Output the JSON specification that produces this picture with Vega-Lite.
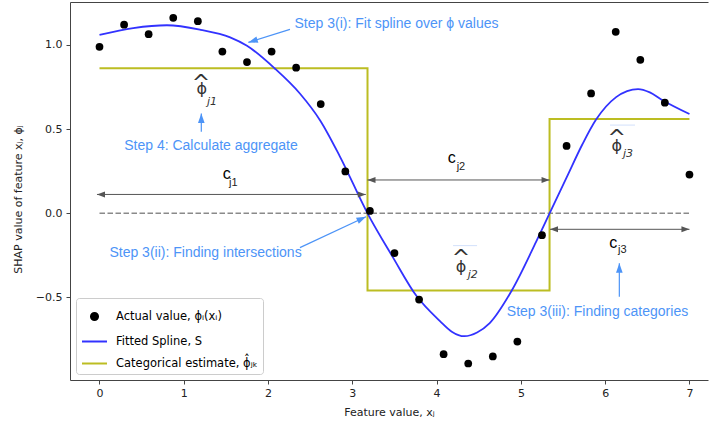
{
  "$schema": "https://vega.github.io/schema/vega-lite/v6.json",
  "width": 638,
  "height": 378,
  "autosize": {"type": "none"},
  "padding": {"left": 70, "top": 2, "right": 1, "bottom": 45},
  "config": {"view": {"stroke": null}, "font": "DejaVu Sans"},
  "datasets": {
    "pts": [
      {"x": 0, "y": 0.989, "series": "Actual value, ϕᵢ(xᵢ)"},
      {"x": 0.292, "y": 1.12, "series": "Actual value, ϕᵢ(xᵢ)"},
      {"x": 0.583, "y": 1.064, "series": "Actual value, ϕᵢ(xᵢ)"},
      {"x": 0.875, "y": 1.161, "series": "Actual value, ϕᵢ(xᵢ)"},
      {"x": 1.167, "y": 1.141, "series": "Actual value, ϕᵢ(xᵢ)"},
      {"x": 1.458, "y": 0.961, "series": "Actual value, ϕᵢ(xᵢ)"},
      {"x": 1.75, "y": 0.898, "series": "Actual value, ϕᵢ(xᵢ)"},
      {"x": 2.042, "y": 0.961, "series": "Actual value, ϕᵢ(xᵢ)"},
      {"x": 2.333, "y": 0.865, "series": "Actual value, ϕᵢ(xᵢ)"},
      {"x": 2.625, "y": 0.649, "series": "Actual value, ϕᵢ(xᵢ)"},
      {"x": 2.917, "y": 0.249, "series": "Actual value, ϕᵢ(xᵢ)"},
      {"x": 3.208, "y": 0.014, "series": "Actual value, ϕᵢ(xᵢ)"},
      {"x": 3.5, "y": -0.236, "series": "Actual value, ϕᵢ(xᵢ)"},
      {"x": 3.792, "y": -0.512, "series": "Actual value, ϕᵢ(xᵢ)"},
      {"x": 4.083, "y": -0.837, "series": "Actual value, ϕᵢ(xᵢ)"},
      {"x": 4.375, "y": -0.892, "series": "Actual value, ϕᵢ(xᵢ)"},
      {"x": 4.667, "y": -0.85, "series": "Actual value, ϕᵢ(xᵢ)"},
      {"x": 4.958, "y": -0.762, "series": "Actual value, ϕᵢ(xᵢ)"},
      {"x": 5.25, "y": -0.13, "series": "Actual value, ϕᵢ(xᵢ)"},
      {"x": 5.542, "y": 0.4, "series": "Actual value, ϕᵢ(xᵢ)"},
      {"x": 5.833, "y": 0.712, "series": "Actual value, ϕᵢ(xᵢ)"},
      {"x": 6.125, "y": 1.078, "series": "Actual value, ϕᵢ(xᵢ)"},
      {"x": 6.417, "y": 0.912, "series": "Actual value, ϕᵢ(xᵢ)"},
      {"x": 6.708, "y": 0.657, "series": "Actual value, ϕᵢ(xᵢ)"},
      {"x": 7.0, "y": 0.23, "series": "Actual value, ϕᵢ(xᵢ)"}
    ],
    "spline": [
      {"x": 0, "y": 1.06, "series": "Fitted Spline, S"},
      {"x": 0.4, "y": 1.1, "series": "Fitted Spline, S"},
      {"x": 0.8, "y": 1.117, "series": "Fitted Spline, S"},
      {"x": 1.2, "y": 1.09, "series": "Fitted Spline, S"},
      {"x": 1.55, "y": 1.045, "series": "Fitted Spline, S"},
      {"x": 1.75, "y": 0.995, "series": "Fitted Spline, S"},
      {"x": 2.08, "y": 0.86, "series": "Fitted Spline, S"},
      {"x": 2.38, "y": 0.71, "series": "Fitted Spline, S"},
      {"x": 2.62, "y": 0.55, "series": "Fitted Spline, S"},
      {"x": 2.85, "y": 0.34, "series": "Fitted Spline, S"},
      {"x": 3.18, "y": 0.0, "series": "Fitted Spline, S"},
      {"x": 3.48, "y": -0.26, "series": "Fitted Spline, S"},
      {"x": 3.76, "y": -0.49, "series": "Fitted Spline, S"},
      {"x": 4.04, "y": -0.64, "series": "Fitted Spline, S"},
      {"x": 4.18, "y": -0.703, "series": "Fitted Spline, S"},
      {"x": 4.33, "y": -0.73, "series": "Fitted Spline, S"},
      {"x": 4.48, "y": -0.708, "series": "Fitted Spline, S"},
      {"x": 4.63, "y": -0.652, "series": "Fitted Spline, S"},
      {"x": 4.89, "y": -0.46, "series": "Fitted Spline, S"},
      {"x": 5.18, "y": -0.17, "series": "Fitted Spline, S"},
      {"x": 5.34, "y": 0.0, "series": "Fitted Spline, S"},
      {"x": 5.54, "y": 0.21, "series": "Fitted Spline, S"},
      {"x": 5.73, "y": 0.41, "series": "Fitted Spline, S"},
      {"x": 5.89, "y": 0.555, "series": "Fitted Spline, S"},
      {"x": 6.13, "y": 0.69, "series": "Fitted Spline, S"},
      {"x": 6.26, "y": 0.726, "series": "Fitted Spline, S"},
      {"x": 6.39, "y": 0.738, "series": "Fitted Spline, S"},
      {"x": 6.53, "y": 0.718, "series": "Fitted Spline, S"},
      {"x": 6.67, "y": 0.675, "series": "Fitted Spline, S"},
      {"x": 7.0, "y": 0.59, "series": "Fitted Spline, S"}
    ],
    "step": [
      {"x": 0, "y": 0.861, "o": 1, "series": "Categorical estimate, ϕ̂ⱼₖ"},
      {"x": 3.18, "y": 0.861, "o": 2, "series": "Categorical estimate, ϕ̂ⱼₖ"},
      {"x": 3.18, "y": -0.459, "o": 3, "series": "Categorical estimate, ϕ̂ⱼₖ"},
      {"x": 5.34, "y": -0.459, "o": 4, "series": "Categorical estimate, ϕ̂ⱼₖ"},
      {"x": 5.34, "y": 0.56, "o": 5, "series": "Categorical estimate, ϕ̂ⱼₖ"},
      {"x": 7.0, "y": 0.56, "o": 6, "series": "Categorical estimate, ϕ̂ⱼₖ"}
    ],
    "zero": [{"x": 0, "y": 0}, {"x": 7, "y": 0}],
    "garrows": [
      {"x": -0.03, "x2": 3.16, "y": 0.112},
      {"x": 3.18, "x2": 5.34, "y": 0.198},
      {"x": 5.345, "x2": 7.0, "y": -0.095}
    ],
    "gheads": [
      {"x": -0.03, "y": 0.112, "a": 180},
      {"x": 3.16, "y": 0.112, "a": 0},
      {"x": 3.18, "y": 0.198, "a": 180},
      {"x": 5.34, "y": 0.198, "a": 0},
      {"x": 5.345, "y": -0.095, "a": 180},
      {"x": 7.0, "y": -0.095, "a": 0}
    ],
    "barrows": [
      {"x": 2.26, "y": 1.092, "x2": 1.766, "y2": 1.015},
      {"x": 1.208, "y": 0.484, "x2": 1.208, "y2": 0.593},
      {"x": 2.378, "y": -0.204, "x2": 3.162, "y2": -0.02},
      {"x": 6.168, "y": -0.495, "x2": 6.168, "y2": -0.297}
    ],
    "bheads": [
      {"x": 1.766, "y": 1.015, "a": 162.7},
      {"x": 1.208, "y": 0.593, "a": 270},
      {"x": 3.162, "y": -0.02, "a": 334.8},
      {"x": 6.168, "y": -0.297, "a": 270}
    ],
    "bluetext": [
      {"x": 3.524, "y": 1.123, "t": "Step 3(i): Fit spline over ϕ values"},
      {"x": 1.323, "y": 0.4, "t": "Step 4: Calculate aggregate"},
      {"x": 1.258, "y": -0.234, "t": "Step 3(ii): Finding intersections"},
      {"x": 5.909, "y": -0.588, "t": "Step 3(iii): Finding categories"}
    ],
    "ctext": [
      {"x": 1.509, "y": 0.231, "t": "c"},
      {"x": 4.179, "y": 0.326, "t": "c"},
      {"x": 6.096, "y": -0.175, "t": "c"}
    ],
    "csub": [
      {"x": 1.536, "y": 0.178, "t": "j1"},
      {"x": 4.238, "y": 0.277, "t": "j2"},
      {"x": 6.152, "y": -0.218, "t": "j3"}
    ],
    "phi": [
      {"x": 1.213, "y": 0.736, "t": "ϕ"},
      {"x": 4.289, "y": -0.317, "t": "ϕ"},
      {"x": 6.137, "y": 0.399, "t": "ϕ"}
    ],
    "hat": [
      {"x": 1.205, "y": 0.733, "t": "^"},
      {"x": 4.289, "y": -0.305, "t": "^"},
      {"x": 6.137, "y": 0.407, "t": "^"}
    ],
    "phisub": [
      {"x": 1.276, "y": 0.662, "t": "j1"},
      {"x": 4.369, "y": -0.366, "t": "j2"},
      {"x": 6.211, "y": 0.352, "t": "j3"}
    ],
    "overline": [
      {"x": 4.195, "x2": 4.48, "y": -0.192},
      {"x": 6.057, "x2": 6.354, "y": 0.524}
    ]
  },
  "encoding": {
    "x": {"field": "x", "type": "quantitative", "scale": {"domain": [-0.35, 7.22], "nice": false, "zero": false},
      "axis": {"orient": "bottom", "values": [0, 1, 2, 3, 4, 5, 6, 7], "format": "d", "grid": false, "tickSize": 4, "labelPadding": 3,
        "domainColor": "#444444", "tickColor": "#444444", "labelFontSize": 11, "labelColor": "#222222", "labelFont": "DejaVu Sans",
        "title": "Feature value, xⱼ", "titleFont": "DejaVu Sans", "titleFontSize": 11, "titleFontWeight": "normal", "titleColor": "#222222",
        "titleY": 32, "titleBaseline": "middle"}},
    "y": {"field": "y", "type": "quantitative", "scale": {"domain": [-0.99, 1.255], "nice": false, "zero": false},
      "axis": {"orient": "left", "values": [-0.5, 0, 0.5, 1], "format": ".1f", "grid": false, "tickSize": 4, "labelPadding": 4,
        "domainColor": "#444444", "tickColor": "#444444", "labelFontSize": 11, "labelColor": "#222222", "labelFont": "DejaVu Sans",
        "title": "SHAP value of feature xⱼ, ϕⱼ", "titleFont": "DejaVu Sans", "titleFontSize": 11, "titleFontWeight": "normal", "titleColor": "#222222",
        "titleX": -52, "titleY": 197, "titleAngle": -90, "titleBaseline": "middle", "titleAlign": "center"}}
  },
  "layer": [
    {
      "data": {"name": "zero"},
      "mark": {"type": "line", "color": "#8a8a8a", "strokeWidth": 1.5, "strokeDash": [5.5, 2.5]},
      "encoding": {
        "x": {"field": "x", "type": "quantitative", "scale": {"domain": [-0.35, 7.22], "nice": false, "zero": false},
          "axis": {"orient": "top", "labels": false, "ticks": false, "title": null, "grid": false, "domainColor": "#444444", "domainWidth": 1}}
      }
    },
    {
      "layer": [
        {
          "data": {"name": "step"},
          "mark": {"type": "line", "strokeWidth": 2},
          "encoding": {
            "order": {"field": "o", "type": "quantitative"},
            "color": {"field": "series", "type": "nominal",
              "scale": {"domain": ["Actual value, ϕᵢ(xᵢ)", "Fitted Spline, S", "Categorical estimate, ϕ̂ⱼₖ"], "range": ["black", "#3232ff", "#bcbd22"]},
              "legend": {"title": null, "orient": "bottom-left", "offset": 6, "fillColor": "white", "strokeColor": "#cccccc", "cornerRadius": 3,
                "padding": 5, "symbolSize": 625, "labelFont": "DejaVu Sans", "labelFontSize": 11.5, "labelColor": "black", "labelOffset": 8, "rowPadding": 3,
                "symbolStrokeWidth": 2,
                "encode": {"symbols": {"update": {
                  "shape": {"signal": "datum.index === 0 ? 'circle' : 'stroke'"},
                  "size": {"signal": "datum.index === 0 ? 50 : 625"},
                  "fill": {"signal": "datum.index === 0 ? 'black' : 'transparent'"},
                  "stroke": {"signal": "datum.index === 0 ? 'transparent' : (datum.index === 1 ? '#3232ff' : '#bcbd22')"},
                  "strokeWidth": {"value": 2},
                  "opacity": {"value": 1}
                }}}}}
          }
        },
        {
          "data": {"name": "spline"},
          "mark": {"type": "line", "strokeWidth": 1.8, "interpolate": "monotone"},
          "encoding": {"color": {"field": "series", "type": "nominal"}}
        },
        {
          "data": {"name": "garrows"},
          "mark": {"type": "rule", "color": "#555555", "strokeWidth": 1},
          "encoding": {"x2": {"field": "x2"}}
        },
        {
          "data": {"name": "gheads"},
          "mark": {"type": "point", "shape": "M0,0L-2,-0.75L-2,0.75Z", "filled": true, "color": "#555555", "size": 64, "opacity": 1},
          "encoding": {"angle": {"field": "a", "type": "quantitative", "scale": null}}
        },
        {
          "data": {"name": "barrows"},
          "mark": {"type": "rule", "color": "#4d94f7", "strokeWidth": 1.2},
          "encoding": {"x2": {"field": "x2"}, "y2": {"field": "y2"}}
        },
        {
          "data": {"name": "bheads"},
          "mark": {"type": "point", "shape": "M0,0L-2,-0.7L-2,0.7Z", "filled": true, "color": "#4d94f7", "size": 90, "opacity": 1},
          "encoding": {"angle": {"field": "a", "type": "quantitative", "scale": null}}
        },
        {
          "data": {"name": "pts"},
          "mark": {"type": "circle", "size": 60, "opacity": 1},
          "encoding": {"color": {"field": "series", "type": "nominal"}}
        },
        {
          "data": {"name": "overline"},
          "mark": {"type": "rule", "color": "#d2e0fb", "strokeWidth": 1},
          "encoding": {"x2": {"field": "x2"}}
        },
        {
          "data": {"name": "bluetext"},
          "mark": {"type": "text", "font": "Liberation Sans", "fontSize": 14, "color": "#4d94f7", "align": "center", "baseline": "middle"},
          "encoding": {"text": {"field": "t"}}
        },
        {
          "data": {"name": "ctext"},
          "mark": {"type": "text", "font": "Liberation Sans", "fontSize": 16, "color": "black", "align": "center", "baseline": "middle"},
          "encoding": {"text": {"field": "t"}}
        },
        {
          "data": {"name": "csub"},
          "mark": {"type": "text", "font": "Liberation Sans", "fontSize": 11, "color": "#222222", "align": "left", "baseline": "middle"},
          "encoding": {"text": {"field": "t"}}
        },
        {
          "data": {"name": "phi"},
          "mark": {"type": "text", "font": "DejaVu Sans", "fontSize": 16, "color": "#333333", "align": "center", "baseline": "middle"},
          "encoding": {"text": {"field": "t"}}
        },
        {
          "data": {"name": "hat"},
          "mark": {"type": "text", "font": "DejaVu Sans", "fontSize": 22, "color": "#333333", "align": "center", "baseline": "alphabetic"},
          "encoding": {"text": {"field": "t"}}
        },
        {
          "data": {"name": "phisub"},
          "mark": {"type": "text", "font": "DejaVu Sans", "fontSize": 11, "fontStyle": "italic", "color": "#333333", "align": "left", "baseline": "middle"},
          "encoding": {"text": {"field": "t"}}
        }
      ]
    }
  ]
}
